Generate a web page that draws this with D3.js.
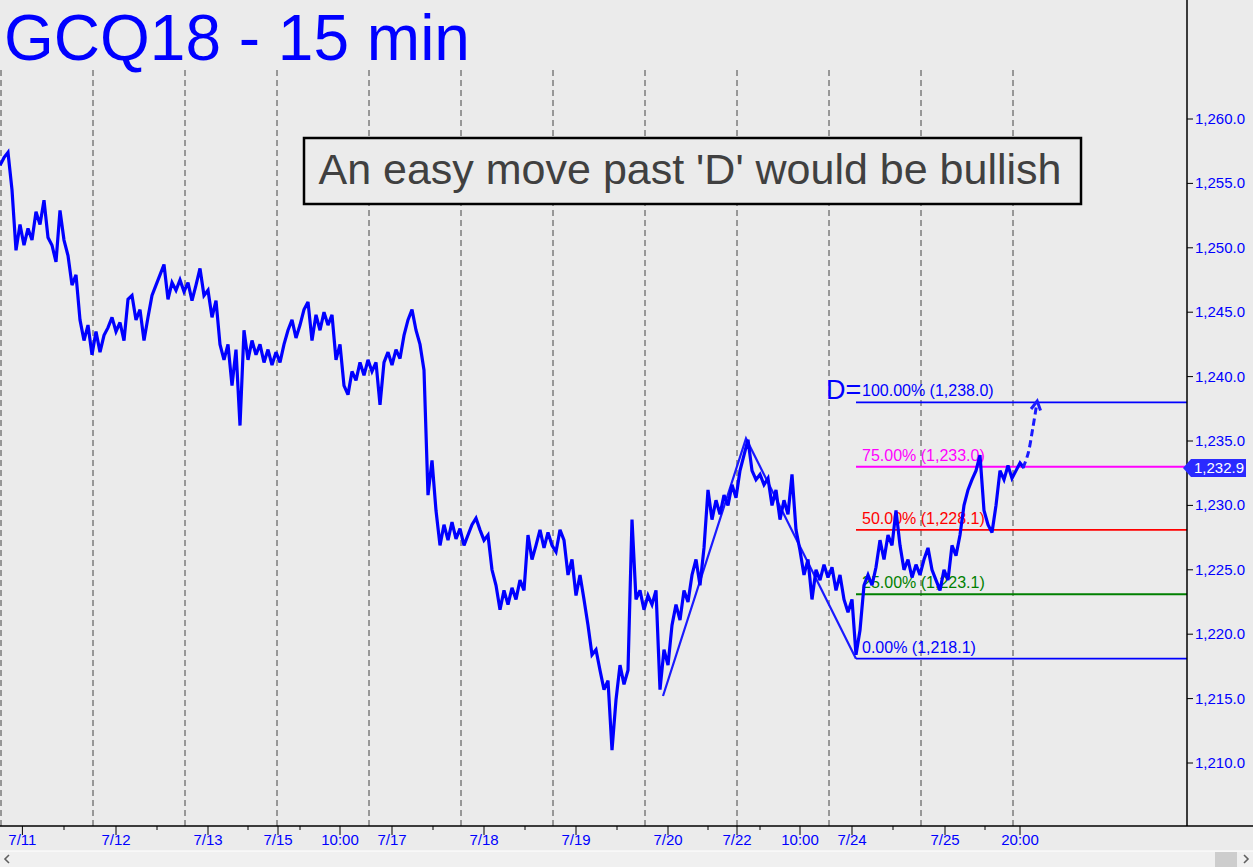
<!DOCTYPE html>
<html><head><meta charset="utf-8">
<script src="https://cdn.jsdelivr.net/npm/d3@7"></script>
<style>html,body{margin:0;padding:0;background:#ebebeb;overflow:hidden}</style>
</head><body><svg id="c" width="1253" height="867"></svg>
<script>
const title = "GCQ18 - 15 min";
const note = "An easy move past 'D' would be bullish";
// 15-min price samples, one per sample step
const prices = [
1256.4,1257.0,1257.4,1254.5,1249.8,1251.8,1250.2,1251.5,1250.6,1252.8,
1251.8,1253.7,1250.8,1250.2,1248.9,1252.9,1250.6,1249.4,1247.1,1247.9,
1244.4,1242.8,1244.0,1241.7,1243.5,1241.9,1243.2,1243.8,1244.6,1243.5,
1244.2,1242.8,1246.0,1246.3,1244.4,1245.2,1242.8,1244.6,1246.3,1247.1,
1247.9,1248.7,1246.0,1247.3,1246.7,1247.5,1246.6,1247.3,1245.9,1247.1,
1248.4,1246.3,1246.7,1244.6,1245.9,1242.5,1241.3,1242.5,1239.3,1242.1,
1236.2,1243.6,1241.3,1242.8,1241.7,1242.5,1241.1,1242.1,1240.9,1241.9,
1241.1,1242.5,1243.6,1244.4,1243.0,1244.0,1245.2,1245.8,1242.8,1244.8,
1243.6,1245.0,1244.0,1244.8,1241.3,1242.5,1239.3,1238.6,1240.4,1239.7,
1241.1,1240.1,1241.3,1240.4,1241.1,1237.8,1241.1,1241.9,1240.9,1242.1,
1241.4,1243.2,1244.4,1245.2,1243.6,1242.5,1240.5,1230.8,1233.5,1229.6,
1226.9,1228.5,1227.3,1228.7,1227.4,1228.2,1226.9,1227.7,1228.5,1229.0,
1228.1,1227.3,1227.7,1225.0,1223.8,1221.9,1223.4,1222.3,1223.6,1222.7,
1224.2,1223.4,1227.7,1225.8,1226.9,1228.1,1226.7,1227.9,1226.9,1226.4,
1228.1,1227.3,1224.6,1225.8,1223.0,1224.6,1222.7,1220.7,1218.4,1218.8,
1217.2,1215.7,1216.4,1211.0,1214.9,1217.6,1216.1,1217.2,1228.9,1222.7,
1223.4,1221.9,1223.0,1222.3,1223.4,1215.7,1218.8,1217.6,1220.7,1222.3,
1221.1,1223.4,1222.5,1224.6,1225.8,1223.8,1226.7,1231.2,1228.9,1230.4,
1229.3,1230.8,1230.0,1231.6,1230.6,1232.7,1233.9,1235.1,1232.7,1232.0,
1232.4,1231.6,1232.1,1230.0,1231.2,1228.9,1230.4,1229.3,1232.4,1228.1,
1226.5,1224.6,1225.8,1222.7,1225.0,1224.2,1225.4,1224.4,1225.2,1223.4,
1224.6,1222.7,1221.7,1222.7,1218.4,1220.3,1223.8,1224.6,1223.8,1225.2,
1227.3,1225.8,1227.7,1226.9,1229.6,1226.9,1225.0,1225.8,1224.4,1225.4,
1224.6,1225.8,1226.7,1225.0,1224.2,1223.4,1225.0,1224.2,1226.9,1226.1,
1227.7,1230.0,1231.2,1232.0,1232.7,1233.9,1229.6,1228.5,1227.9,1230.0,
1232.7,1232.0,1233.1,1232.1,1232.7,1233.3,1232.9
];
const xLabels = ["7/11","7/12","7/13","7/15","10:00","7/17","7/18","7/19","7/20","7/22","10:00","7/24","7/25","20:00"];
const xLabelPos = [5.6,29,52,69.5,85,98,121,144,167,184.25,200,213,236.25,255];
const xMinorPos = [16,39.25,62,75,108.25,131.25,154.25,177,190,223.25,246.25];
const gridPos = [0.25,23.25,46.25,69.25,92.25,115.25,138.25,161.25,184.25,207.25,230.25,253.25];
const yTicks = [1210,1215,1220,1225,1230,1235,1240,1245,1250,1255,1260];
const zigzag = [[165.75,1215.2],[186.5,1235.2],[214,1218.1]];
const fibLevels = [1218.1,1223.1,1228.1,1233.0,1238.0];
const fibLabels = ["0.00% (1,218.1)","25.00% (1,223.1)","50.00% (1,228.1)","75.00% (1,233.0)","100.00% (1,238.0)"];
const fibStart = 214;
const lastPrice = 1232.9;
const projection = [[255.75,1232.9],[257.0,1234.0],[258.2,1236.0],[259.3,1238.1]];

const fibColors = ["#0000ff","#008000","#ff0000","#ff00ff","#0000ff"];
const W = 1253, H = 867, axisX = 1187, axisY = 826;
const svg = d3.select("#c");
const x = d3.scaleLinear().domain([0, 296.75]).range([0, axisX]);
const y = d3.scaleLinear().domain([1210, 1260]).range([763, 119]);
const font = "Liberation Sans, Arial, sans-serif";

svg.append("rect").attr("width", W).attr("height", H).attr("fill", "#ebebeb");

// gridlines
svg.append("g").selectAll("line").data(gridPos).join("line")
  .attr("x1", d => x(d)).attr("x2", d => x(d)).attr("y1", 70).attr("y2", axisY)
  .attr("stroke", "#444").attr("stroke-width", 1).attr("stroke-dasharray", "6,4");

// title
svg.append("text").attr("x", 4).attr("y", 60).text(title)
  .attr("font-family", font).attr("font-size", 64).attr("fill", "#0000ff");

// annotation box
svg.append("rect").attr("x", 304).attr("y", 138).attr("width", 777).attr("height", 66)
  .attr("fill", "#ebebeb").attr("stroke", "#000").attr("stroke-width", 2.5);
svg.append("text").attr("x", 690).attr("y", 184).attr("text-anchor", "middle").text(note)
  .attr("font-family", font).attr("font-size", 43).attr("fill", "#404040");

// fib lines
const fg = svg.append("g");
fibLevels.forEach((lv, i) => {
  fg.append("line").attr("x1", x(fibStart)).attr("x2", axisX).attr("y1", y(lv)).attr("y2", y(lv))
    .attr("stroke", fibColors[i]).attr("stroke-width", 1.8);
  fg.append("text").attr("x", x(fibStart) + 6).attr("y", y(lv) - 6).text(fibLabels[i])
    .attr("font-family", font).attr("font-size", 16).attr("fill", fibColors[i]);
});
fg.append("text").attr("x", x(fibStart) - 30).attr("y", y(fibLevels[4]) - 3).text("D=")
  .attr("font-family", font).attr("font-size", 27).attr("fill", "#0000ff");

// zigzag
svg.append("path").datum(zigzag)
  .attr("d", d3.line().x(d => x(d[0])).y(d => y(d[1])))
  .attr("fill", "none").attr("stroke", "#1a1aff").attr("stroke-width", 2.2);

// price line
svg.append("path").datum(prices)
  .attr("d", d3.line().x((d, i) => x(i)).y(d => y(d)))
  .attr("fill", "none").attr("stroke", "#0000ff").attr("stroke-width", 3.2)
  .attr("stroke-linejoin", "miter").attr("stroke-miterlimit", 3);

// projection arrow
svg.append("path").datum(projection)
  .attr("d", d3.line().x(d => x(d[0])).y(d => y(d[1])).curve(d3.curveCatmullRom))
  .attr("fill", "none").attr("stroke", "#1a1aff").attr("stroke-width", 3).attr("stroke-dasharray", "7,4");
{
  const p1 = projection[projection.length - 2], p2 = projection[projection.length - 1];
  const ex = x(p2[0]), ey = y(p2[1]);
  const ang = Math.atan2(ey - y(p1[1]), ex - x(p1[0]));
  const L = 10, a = 0.5;
  const pts = [[ex - L * Math.cos(ang - a), ey - L * Math.sin(ang - a)], [ex, ey], [ex - L * Math.cos(ang + a), ey - L * Math.sin(ang + a)]];
  svg.append("path").attr("d", d3.line()(pts)).attr("fill", "none")
    .attr("stroke", "#1a1aff").attr("stroke-width", 3);
}

// right axis
svg.append("line").attr("x1", axisX).attr("x2", axisX).attr("y1", 0).attr("y2", axisY)
  .attr("stroke", "#000").attr("stroke-width", 1.5);
const ya = svg.append("g");
yTicks.forEach(t => {
  ya.append("line").attr("x1", axisX).attr("x2", axisX + 6).attr("y1", y(t)).attr("y2", y(t)).attr("stroke", "#000");
  ya.append("text").attr("x", axisX + 8).attr("y", y(t) + 5).text(d3.format(",.1f")(t))
    .attr("font-family", font).attr("font-size", 15).attr("fill", "#0000ff");
});
// last price tag
{
  const ty = y(lastPrice);
  svg.append("path").attr("d", `M${axisX - 4},${ty} L${axisX + 4},${ty - 9} L${W - 7},${ty - 9} L${W - 7},${ty + 9} L${axisX + 4},${ty + 9} Z`)
    .attr("fill", "#2a2aff");
  svg.append("text").attr("x", axisX + 7).attr("y", ty + 5).text(d3.format(",.1f")(lastPrice))
    .attr("font-family", font).attr("font-size", 15).attr("fill", "#fff");
}

// bottom axis
svg.append("line").attr("x1", 0).attr("x2", W).attr("y1", axisY).attr("y2", axisY)
  .attr("stroke", "#000").attr("stroke-width", 1.5);
const xa = svg.append("g");
xLabelPos.forEach((p, i) => {
  xa.append("line").attr("x1", x(p)).attr("x2", x(p)).attr("y1", axisY).attr("y2", axisY + 9).attr("stroke", "#000");
  xa.append("text").attr("x", x(p)).attr("y", 845).attr("text-anchor", "middle").text(xLabels[i])
    .attr("font-family", font).attr("font-size", 15).attr("fill", "#0000ff");
});
xMinorPos.forEach(p => {
  xa.append("line").attr("x1", x(p)).attr("x2", x(p)).attr("y1", axisY).attr("y2", axisY + 4).attr("stroke", "#000");
});

// scrollbar strip
svg.append("rect").attr("x", 0).attr("y", 851).attr("width", W).attr("height", 16).attr("fill", "#f0f0f0");
svg.append("line").attr("x1", 0).attr("x2", W).attr("y1", 851).attr("y2", 851).attr("stroke", "#fff");
svg.append("rect").attr("x", 1215).attr("y", 852).attr("width", 22).attr("height", 15).attr("fill", "#cdcdcd");
svg.append("path").attr("d", "M9,855 L5,859 L9,863").attr("fill", "none").attr("stroke", "#606060").attr("stroke-width", 1.6);
svg.append("path").attr("d", "M1244,855 L1248,859 L1244,863").attr("fill", "none").attr("stroke", "#606060").attr("stroke-width", 1.6);
</script></body></html>
